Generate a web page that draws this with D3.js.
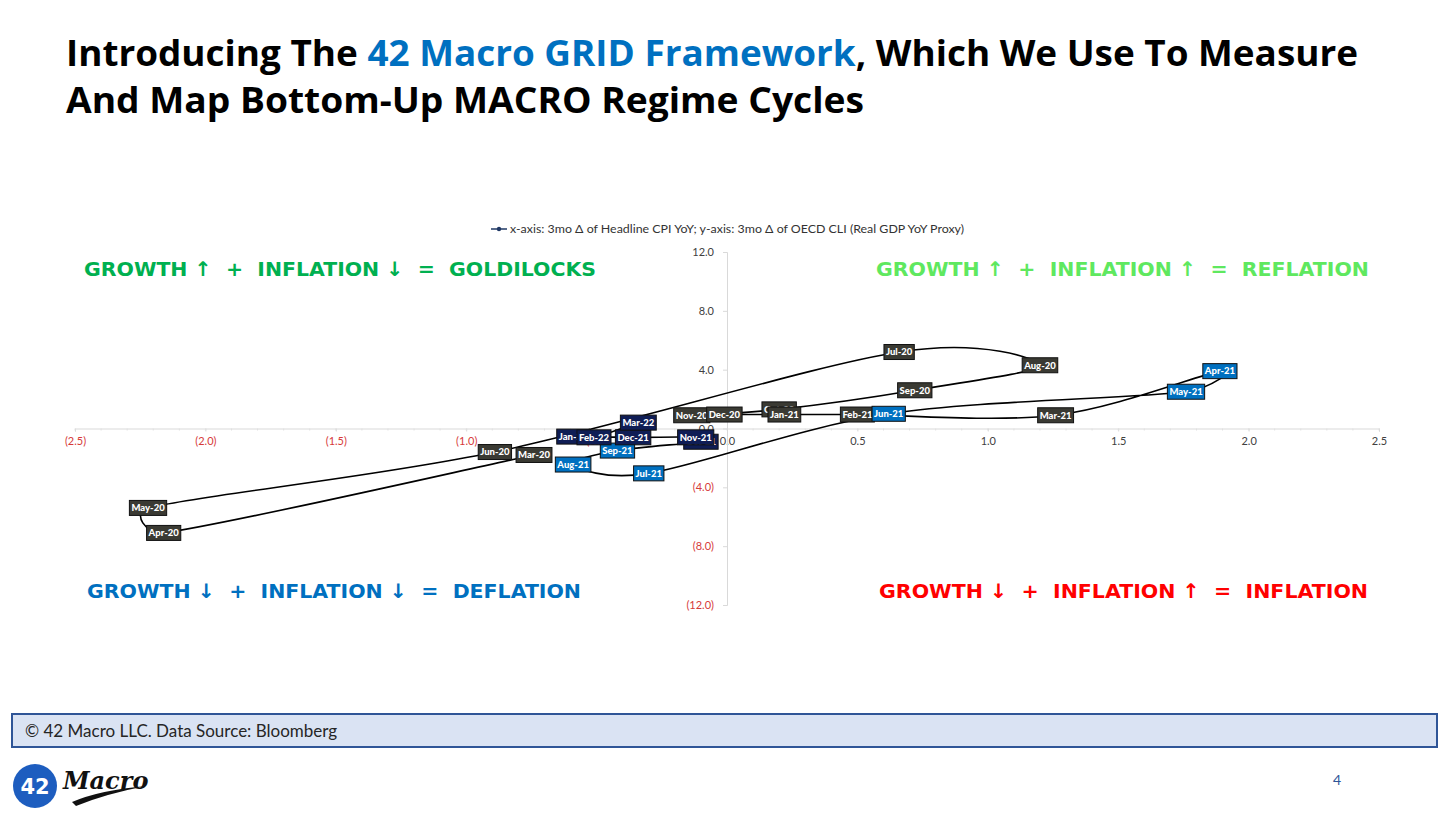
<!DOCTYPE html>
<html>
<head>
<meta charset="utf-8">
<script src="https://cdn.jsdelivr.net/npm/d3@7"></script>
<style>
  body { margin: 0; background: #fff; }
  svg { display: block; }
  .axis path, .axis line { stroke: #d9d9d9; }
  .axis text { font-family: Lato, "Open Sans", sans-serif; font-size: 11px; }
</style>
</head>
<body>
<div id="slide"></div>
<script>
// months of the GRID path, in order
const months = ["Mar-20", "Apr-20", "May-20", "Jun-20", "Jul-20", "Aug-20", "Sep-20", "Oct-20",
  "Nov-20", "Dec-20", "Jan-21", "Feb-21", "Mar-21", "Apr-21", "May-21", "Jun-21", "Jul-21",
  "Aug-21", "Sep-21", "Oct-21", "Nov-21", "Dec-21", "Jan-22", "Feb-22", "Mar-22"];
// x: 3mo change of headline CPI YoY
const cpiDelta = [-0.74, -2.16, -2.22, -0.89, 0.66, 1.20, 0.72, 0.20,
  -0.135, -0.01, 0.22, 0.50, 1.26, 1.89, 1.76, 0.62, -0.30,
  -0.59, -0.42, -0.10, -0.12, -0.36, -0.59, -0.51, -0.34];
// y: 3mo change of OECD CLI
const cliDelta = [-1.8, -7.1, -5.4, -1.6, 5.2, 4.3, 2.6, 1.3,
  0.9, 0.95, 0.95, 0.95, 0.9, 3.9, 2.5, 1.0, -3.05,
  -2.45, -1.5, -0.9, -0.6, -0.6, -0.55, -0.6, 0.4];

const xTicks = [-2.5, -2.0, -1.5, -1.0, -0.5, 0.0, 0.5, 1.0, 1.5, 2.0, 2.5];
const yTicks = [-12, -8, -4, 0, 4, 8, 12];

const quadrants = [
  { text: "GROWTH \u2191  +  INFLATION \u2193  =  GOLDILOCKS", x: 84, y: 276, w: 512, color: "#00b050" },
  { text: "GROWTH \u2191  +  INFLATION \u2191  =  REFLATION", x: 876, y: 276, w: 493, color: "#5fe85f" },
  { text: "GROWTH \u2193  +  INFLATION \u2193  =  DEFLATION", x: 87, y: 598, w: 494, color: "#0070c0" },
  { text: "GROWTH \u2193  +  INFLATION \u2191  =  INFLATION", x: 879, y: 598, w: 489, color: "#ff0000" }
];

const width = 1452, height = 816;

const svg = d3.select("#slide").append("svg")
  .attr("width", width)
  .attr("height", height);

svg.append("rect").attr("width", width).attr("height", height).attr("fill", "#fff");

// title
const title = svg.append("g")
  .style("font-family", "'Open Sans', Lato, sans-serif")
  .style("font-weight", 700)
  .style("font-size", "36px");
const t1 = title.append("text")
  .attr("x", 66).attr("y", 66)
  .attr("textLength", 1292).attr("lengthAdjust", "spacingAndGlyphs");
t1.append("tspan").attr("fill", "#000").text("Introducing The ");
t1.append("tspan").attr("fill", "#0070c0").text("42 Macro GRID Framework");
t1.append("tspan").attr("fill", "#000").text(", Which We Use To Measure");
title.append("text")
  .attr("x", 66).attr("y", 113)
  .attr("textLength", 798).attr("lengthAdjust", "spacingAndGlyphs")
  .attr("fill", "#000")
  .text("And Map Bottom-Up MACRO Regime Cycles");

// scales
const x = d3.scaleLinear().domain([-2.5, 2.5]).range([75, 1379]);
const y = d3.scaleLinear().domain([-12, 12]).range([605, 252]);

const fmt = d3.format(".1f");
const tickFmt = d => d < 0 ? `(${fmt(-d)})` : fmt(d);
const tickColor = d => d < 0 ? "#d63a3a" : "#404040";

// legend
const legend = svg.append("g");
legend.append("line")
  .attr("x1", 491).attr("x2", 507).attr("y1", 229).attr("y2", 229)
  .attr("stroke", "#1f3864").attr("stroke-width", 1.5);
legend.append("circle")
  .attr("cx", 499).attr("cy", 229).attr("r", 2.2)
  .attr("fill", "#1f3864");
legend.append("text")
  .attr("x", 510).attr("y", 233)
  .attr("textLength", 454).attr("lengthAdjust", "spacingAndGlyphs")
  .style("font-family", "Lato, 'Open Sans', sans-serif")
  .style("font-size", "11.5px")
  .attr("fill", "#333")
  .text("x-axis: 3mo \u0394 of Headline CPI YoY; y-axis: 3mo \u0394 of OECD CLI (Real GDP YoY Proxy)");

// quadrant labels
svg.append("g").selectAll("text")
  .data(quadrants)
  .enter().append("text")
  .attr("x", d => d.x).attr("y", d => d.y)
  .attr("textLength", d => d.w).attr("lengthAdjust", "spacingAndGlyphs")
  .attr("fill", d => d.color)
  .style("white-space", "pre")
  .style("font-family", "'DejaVu Sans', sans-serif")
  .style("font-weight", 700)
  .style("font-size", "20px")
  .text(d => d.text);

// axes
const xAxis = svg.append("g")
  .attr("class", "axis")
  .attr("transform", `translate(0, ${y(0)})`)
  .call(d3.axisBottom(x).tickValues(xTicks).tickSize(3).tickPadding(6).tickFormat(tickFmt));
xAxis.selectAll(".tick text").attr("fill", tickColor);

// minor ticks on x
svg.append("g").selectAll("line")
  .data(d3.range(-25, 26).map(d => d / 10))
  .enter().append("line")
  .attr("x1", d => x(d)).attr("x2", d => x(d))
  .attr("y1", y(0)).attr("y2", y(0) + 2)
  .attr("stroke", "#e0e0e0");

const yAxis = svg.append("g")
  .attr("class", "axis")
  .attr("transform", `translate(${x(0)}, 0)`)
  .call(d3.axisLeft(y).tickValues(yTicks).tickSize(4).tickPadding(9).tickFormat(tickFmt));
yAxis.selectAll(".tick text").attr("fill", tickColor);

// smoothed line like a spreadsheet: bezier with neighbour tangents,
// arms kept short on short segments so the curve does not loop
function smoothCurve(context) {
  const K = 0.6;
  let pts;
  return {
    areaStart() {}, areaEnd() {},
    lineStart() { pts = []; },
    point(px, py) { pts.push([+px, +py]); },
    lineEnd() {
      const n = pts.length;
      if (!n) return;
      context.moveTo(pts[0][0], pts[0][1]);
      const tan = pts.map((p, i) => {
        const a = pts[Math.max(i - 1, 0)], b = pts[Math.min(i + 1, n - 1)];
        return [(b[0] - a[0]) / 6, (b[1] - a[1]) / 6];
      });
      for (let i = 0; i < n - 1; i++) {
        const p = pts[i], q = pts[i + 1];
        const len = Math.hypot(q[0] - p[0], q[1] - p[1]);
        const arm = t => {
          const m = Math.hypot(t[0], t[1]);
          const s = m > K * len ? K * len / m : 1;
          return [t[0] * s, t[1] * s];
        };
        const a1 = arm(tan[i]), a2 = arm(tan[i + 1]);
        context.bezierCurveTo(p[0] + a1[0], p[1] + a1[1], q[0] - a2[0], q[1] - a2[1], q[0], q[1]);
      }
    }
  };
}

// path
const points = months.map((m, i) => ({ month: m, cx: cpiDelta[i], cy: cliDelta[i] }));

const line = d3.line()
  .x(d => x(d.cx))
  .y(d => y(d.cy))
  .curve(smoothCurve);

svg.append("path")
  .datum(points)
  .attr("d", line)
  .attr("fill", "none")
  .attr("stroke", "#000")
  .attr("stroke-width", 1.6);

// label colours: 2020 to Mar-21 gray, Apr-21 to Sep-21 blue, later navy
function labelFill(i) {
  if (i <= 12) return "#3a3a33";
  if (i <= 18) return "#0070c0";
  return "#0f1d55";
}

const labels = svg.append("g").selectAll("g")
  .data(points)
  .enter().append("g")
  .attr("transform", d => `translate(${x(d.cx)}, ${y(d.cy)})`);

const labelRect = labels.append("rect")
  .attr("fill", (d, i) => labelFill(i))
  .attr("stroke", "#111")
  .attr("stroke-width", 1);

const labelText = labels.append("text")
  .attr("text-anchor", "middle")
  .attr("dy", "0.35em")
  .attr("fill", "#fff")
  .style("font-family", "Lato, 'Open Sans', sans-serif")
  .style("font-weight", 900)
  .style("font-size", "9.5px")
  .text(d => d.month);

labelText.each(function (d) { d.tw = this.getComputedTextLength(); });
labelRect
  .attr("x", d => -d.tw / 2 - 2)
  .attr("y", -7.5)
  .attr("width", d => d.tw + 4)
  .attr("height", 15);

// footer
svg.append("rect")
  .attr("x", 12).attr("y", 714).attr("width", 1425).attr("height", 33)
  .attr("fill", "#dae3f3").attr("stroke", "#2f5597").attr("stroke-width", 2);
svg.append("text")
  .attr("x", 25).attr("y", 737)
  .style("font-family", "Lato, 'Open Sans', sans-serif")
  .style("font-size", "17px")
  .attr("fill", "#262626")
  .text("\u00a9 42 Macro LLC. Data Source: Bloomberg");

// logo
svg.append("circle").attr("cx", 35).attr("cy", 786).attr("r", 22).attr("fill", "#1d5dbf");
svg.append("text")
  .attr("x", 35).attr("y", 794).attr("text-anchor", "middle")
  .attr("fill", "#fff")
  .style("font-family", "'DejaVu Sans', sans-serif")
  .style("font-weight", 700)
  .style("font-size", "21px")
  .text("42");
svg.append("text")
  .attr("x", 63).attr("y", 789)
  .attr("fill", "#111")
  .style("font-family", "'DejaVu Serif', serif")
  .style("font-style", "italic")
  .style("font-weight", 700)
  .style("font-size", "24px")
  .text("Macro");
svg.append("path")
  .attr("d", "M72,802 Q100,790 146,786 Q105,794 76,806 Z")
  .attr("fill", "#111");

// page number
svg.append("text")
  .attr("x", 1337).attr("y", 785)
  .attr("text-anchor", "middle")
  .attr("fill", "#2f5597")
  .style("font-family", "Lato, 'Open Sans', sans-serif")
  .style("font-size", "14px")
  .text("4");
</script>
</body>
</html>
